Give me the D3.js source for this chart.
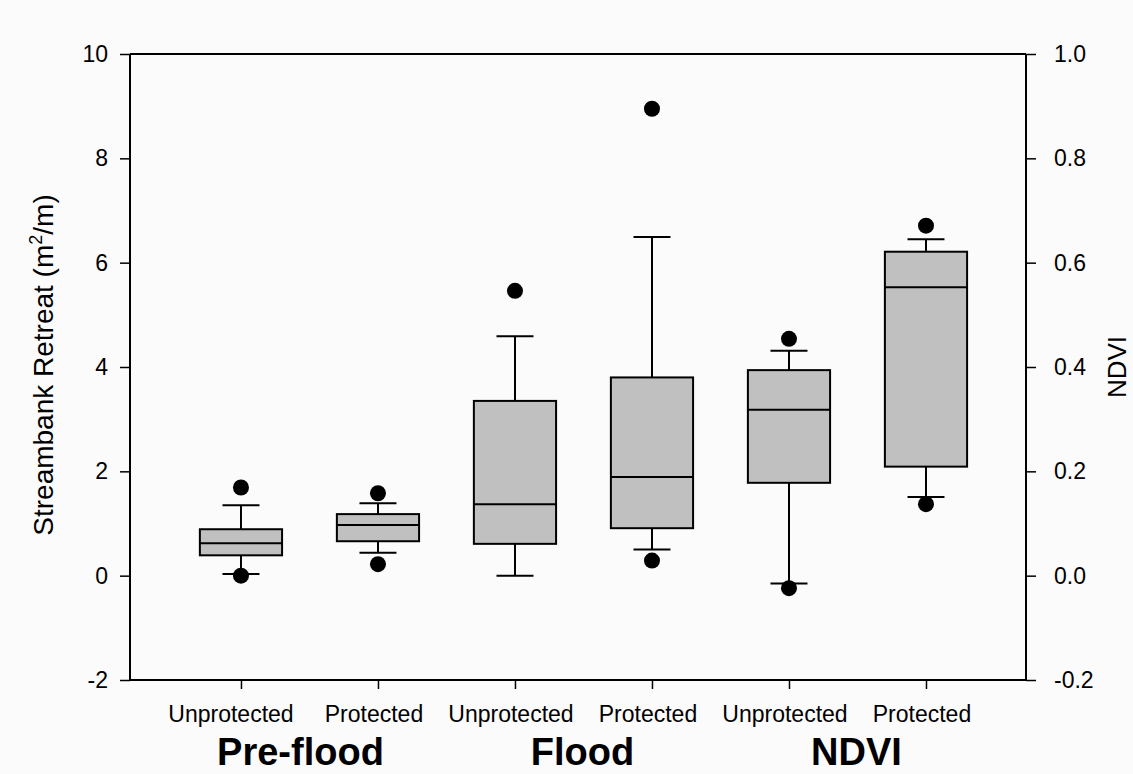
<!DOCTYPE html>
<html>
<head>
<meta charset="utf-8">
<script src="https://cdn.jsdelivr.net/npm/d3@7"></script>
<style>
  html, body { margin: 0; padding: 0; background: #fbfbfb; }
  svg { display: block; font-family: "Liberation Sans", Arial, sans-serif; }
</style>
</head>
<body>
<svg id="chart" width="1133" height="774"></svg>
<script>
// ---- data ----
const categories = ["Unprotected", "Protected", "Unprotected", "Protected", "Unprotected", "Protected"];
const groups = ["Pre-flood", "Flood", "NDVI"];
const lowerDot     = [0.00, 0.22, null, 0.29, -0.24, 1.37];
const lowerWhisker = [0.03, 0.44, 0.00, 0.50, -0.15, 1.51];
const q1           = [0.39, 0.66, 0.61, 0.91, 1.78, 2.09];
const median       = [0.62, 0.97, 1.37, 1.89, 3.18, 5.53];
const q3           = [0.89, 1.18, 3.35, 3.80, 3.94, 6.21];
const upperWhisker = [1.35, 1.39, 4.59, 6.49, 4.31, 6.45];
const upperDot     = [1.69, 1.58, 5.46, 8.95, 4.54, 6.71];
const leftTicks  = [-2, 0, 2, 4, 6, 8, 10];
const rightTicks = [-0.2, 0.0, 0.2, 0.4, 0.6, 0.8, 1.0];

// ---- layout ----
const svg = d3.select("#chart");
const L = 130, R = 1026, T = 54, B = 680;
const x = d3.scaleLinear().domain([0.19, 6.73]).range([L, R]);
const y = d3.scaleLinear().domain([-2, 10]).range([B, T]);
const y2 = d3.scaleLinear().domain([-0.2, 1.0]).range([B, T]);
const boxW = 0.6, capW = 0.27;
const px = v => x(v) - x(0);

const font = 23;
const hy = f => (v => d3.format(f)(v).replace("\u2212", "-"));

// frame: top line
svg.append("line").attr("x1", L).attr("x2", R).attr("y1", T).attr("y2", T)
  .attr("stroke", "#000").attr("stroke-width", 2);

// left axis
const gL = svg.append("g").attr("transform", `translate(${L},0)`)
  .call(d3.axisLeft(y).tickValues(leftTicks).tickSize(10).tickPadding(12).tickFormat(hy("d")));
// right axis
const gR = svg.append("g").attr("transform", `translate(${R},0)`)
  .call(d3.axisRight(y2).tickValues(rightTicks).tickSize(10).tickPadding(18).tickFormat(hy(".1f")));
// bottom axis
const idx = d3.range(1, categories.length + 1);
const gB = svg.append("g").attr("transform", `translate(0,${B})`)
  .call(d3.axisBottom(x).tickValues(idx).tickSize(9).tickFormat(""));

[gL, gR, gB].forEach(g => {
  g.select(".domain").attr("stroke", "#000").attr("stroke-width", 2);
  g.selectAll(".tick line").attr("stroke", "#000").attr("stroke-width", 1.5);
  g.selectAll(".tick text").attr("fill", "#000").attr("font-size", font)
    .attr("font-family", "Liberation Sans, Arial, sans-serif");
});
gL.select(".domain").attr("d", `M0,${T}V${B}`);
gR.select(".domain").attr("d", `M0,${T}V${B}`);
gB.select(".domain").attr("d", `M${L},0H${R}`);

// category labels
svg.append("g").selectAll("text").data(categories).join("text")
  .attr("x", (d, i) => x(i + 1) - (i === 0 ? 10 : 4))
  .attr("y", 722)
  .attr("text-anchor", "middle")
  .attr("font-size", font)
  .text(d => d);

// group labels
svg.append("g").selectAll("text").data(groups).join("text")
  .attr("x", (d, i) => (x(2 * i + 1) + x(2 * i + 2)) / 2 - (i === 0 ? 9 : 1))
  .attr("y", 765)
  .attr("text-anchor", "middle")
  .attr("font-size", 38)
  .attr("font-weight", "bold")
  .text(d => d);

// y titles
const yt = svg.append("text")
  .attr("transform", `translate(53,${(T + B) / 2 - 2}) rotate(-90)`)
  .attr("text-anchor", "middle")
  .attr("font-size", 28);
yt.append("tspan").text("Streambank Retreat (m");
yt.append("tspan").attr("font-size", 18).attr("dy", -11).text("2");
yt.append("tspan").attr("dy", 11).text("/m)");

svg.append("text")
  .attr("transform", `translate(1126,${(T + B) / 2}) rotate(-90)`)
  .attr("text-anchor", "middle")
  .attr("font-size", 26)
  .text("NDVI");

// ---- boxes ----
const data = idx.map((c, i) => ({
  c, lo: lowerWhisker[i], q1: q1[i], med: median[i], q3: q3[i], hi: upperWhisker[i],
  dLo: lowerDot[i], dHi: upperDot[i]
}));

const g = svg.append("g").attr("stroke", "#000").attr("stroke-width", 2);
const bx = g.selectAll("g.box").data(data).join("g").attr("class", "box");

bx.append("line").attr("x1", d => x(d.c)).attr("x2", d => x(d.c))
  .attr("y1", d => y(d.hi)).attr("y2", d => y(d.q3));
bx.append("line").attr("x1", d => x(d.c)).attr("x2", d => x(d.c))
  .attr("y1", d => y(d.q1)).attr("y2", d => y(d.lo));
bx.append("line").attr("x1", d => x(d.c - capW / 2)).attr("x2", d => x(d.c + capW / 2))
  .attr("y1", d => y(d.hi)).attr("y2", d => y(d.hi));
bx.append("line").attr("x1", d => x(d.c - capW / 2)).attr("x2", d => x(d.c + capW / 2))
  .attr("y1", d => y(d.lo)).attr("y2", d => y(d.lo));
bx.append("rect")
  .attr("x", d => x(d.c - boxW / 2)).attr("width", px(boxW))
  .attr("y", d => y(d.q3)).attr("height", d => y(d.q1) - y(d.q3))
  .attr("fill", "#c0c0c0");
bx.append("line").attr("x1", d => x(d.c - boxW / 2)).attr("x2", d => x(d.c + boxW / 2))
  .attr("y1", d => y(d.med)).attr("y2", d => y(d.med));

const dots = [];
data.forEach(d => {
  if (d.dLo !== null) dots.push({ c: d.c, v: d.dLo });
  if (d.dHi !== null) dots.push({ c: d.c, v: d.dHi });
});
svg.append("g").selectAll("circle").data(dots).join("circle")
  .attr("cx", d => x(d.c)).attr("cy", d => y(d.v)).attr("r", 8).attr("fill", "#000");
</script>
</body>
</html>
